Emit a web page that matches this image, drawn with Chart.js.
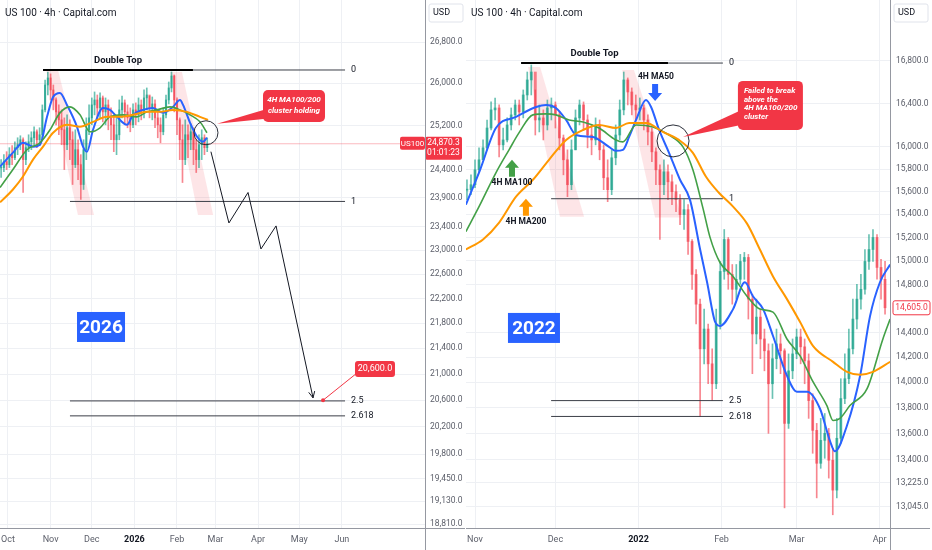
<!DOCTYPE html>
<html>
<head>
<meta charset="utf-8">
<script src="https://cdn.jsdelivr.net/npm/chart.js@4.4.1/dist/chart.umd.min.js"></script>
<style>
  html, body { margin: 0; padding: 0; background: #fff; overflow: hidden; }
  #wrap { position: relative; width: 932px; height: 550px; }
  canvas { position: absolute; top: 0; }
  #left { left: 0; }
  #right { left: 466px; }
</style>
</head>
<body>
<div id="wrap">
  <canvas id="left" width="466" height="550" style="width:466px;height:550px"></canvas>
  <canvas id="right" width="466" height="550" style="width:466px;height:550px"></canvas>
</div>
<script>
const FONT = 'Roboto, "Noto Sans", sans-serif';
const INK = '#131722';
const AXIS_INK = '#5d606b';
const GRID = '#eef0f4';
const UP = 'rgba(8,153,129,0.6)';
const DOWN = 'rgba(242,54,69,0.6)';
const RED = '#f23645';
const BLUE = '#2962ff';
const GREEN = '#43a047';
const ORANGE = '#ff9800';

// ---------- left panel: 2025/26, x = days since 1 Oct 2025 ----------
const leftMonthDays = [0, 31, 61, 92, 123, 151, 182, 212, 243];
const leftMonthLabels = ['Oct', 'Nov', 'Dec', '2026', 'Feb', 'Mar', 'Apr', 'May', 'Jun'];
const leftPriceTicks = [26800, 26000, 25200, 24400, 23900, 23400, 23000, 22600, 22200, 21800, 21400, 21000, 20600, 20200, 19800, 19450, 19130, 18810];
const leftFirstDay = -5;
const leftDayStep = 2;
const leftClose = [24439, 24546, 24492, 24672, 24618, 24799, 24853, 24944, 24582, 24799, 24907, 24980, 25090, 24944, 25035, 25497, 25968, 26102, 25873, 25684, 25460, 25311, 25127, 24853, 25164, 24944, 24492, 24762, 24492, 24137, 24762, 25127, 25348, 25590, 25684, 25534, 25722, 25460, 25590, 25348, 25219, 24944, 25035, 25497, 25628, 25460, 25348, 25219, 25497, 25404, 25590, 25460, 25722, 25778, 25534, 25609, 25348, 25219, 25090, 25404, 25684, 25911, 26140, 25684, 25311, 24944, 24582, 25035, 24944, 25090, 24762, 24582, 24853, 24980, 24799, 24870];
const leftHigh = [24582, 24672, 24726, 24799, 24835, 24907, 24980, 25017, 24980, 24907, 25035, 25090, 25182, 25127, 25164, 25590, 26063, 26217, 26180, 25968, 25722, 25590, 25497, 25348, 25404, 25311, 25090, 25127, 24944, 24672, 24944, 25348, 25590, 25722, 25835, 25778, 25816, 25759, 25722, 25684, 25534, 25404, 25348, 25684, 25759, 25684, 25590, 25534, 25609, 25628, 25722, 25684, 25873, 25911, 25759, 25740, 25684, 25460, 25348, 25534, 25778, 26025, 26217, 26159, 25722, 25348, 25219, 25311, 25219, 25237, 25164, 24944, 25035, 25127, 25035, 24980];
const leftLow = [24261, 24367, 24403, 24439, 24492, 24582, 24672, 24762, 23996, 24492, 24726, 24762, 24853, 24799, 24835, 24980, 25460, 25778, 25684, 25497, 25219, 25035, 24853, 24403, 24762, 24582, 24137, 24439, 24225, 23874, 24049, 24582, 25035, 25219, 25404, 25311, 25348, 25274, 25219, 25127, 24944, 24726, 24672, 24944, 25348, 25219, 25164, 25090, 25164, 25219, 25274, 25311, 25348, 25497, 25348, 25311, 25164, 24980, 24889, 25035, 25348, 25609, 25835, 25460, 25035, 24582, 24172, 24492, 24618, 24762, 24492, 24350, 24439, 24582, 24672, 24726];
const leftMa50 = [[-5.8, 24457], [3.6, 24708], [10.9, 24889], [18.2, 24817], [23.3, 24853], [28.4, 25367], [32.8, 25740], [37.8, 25816], [42.9, 25590], [50.2, 25182], [54.6, 24817], [57.5, 24726], [61.9, 25127], [69.1, 25534], [74.2, 25497], [79.3, 25367], [86.6, 25219], [91.0, 25404], [98.3, 25497], [105.5, 25534], [112.8, 25441], [120.1, 25553], [125.2, 25684], [127.4, 25590], [132.5, 25256], [137.6, 24998], [141.9, 24907], [144.8, 24980]];
const leftMa100 = [[-5.8, 24084], [3.6, 24403], [13.8, 24762], [23.3, 24889], [30.6, 25127], [37.8, 25441], [45.1, 25553], [52.4, 25404], [59.7, 25090], [67.0, 25164], [74.2, 25367], [83.7, 25404], [93.9, 25367], [101.2, 25460], [108.4, 25497], [117.9, 25553], [125.2, 25497], [132.5, 25404], [139.7, 25274], [144.8, 25072]];
const leftMa200 = [[-5.8, 23822], [3.6, 24049], [10.9, 24279], [18.2, 24582], [25.5, 24817], [32.8, 25072], [42.9, 25219], [52.4, 25182], [61.9, 25274], [72.1, 25367], [81.5, 25367], [91.0, 25404], [101.2, 25460], [110.6, 25460], [120.1, 25497], [130.3, 25460], [139.7, 25367], [145.6, 25311]];
const leftFibLabels = ['0', '1', '2.5', '2.618'];
const leftFibPrices = [26255, 23839, 20590, 20365];
const leftFibFrom = [25.5, 45.1, 45.1, 45.1];
const leftFibTo = 245.3;
const leftDoubleTop = [25.5, 134.6];
const leftPathDays = [147.7, 160.8, 174.7, 184.1, 195.1, 222.0];
const leftPathPrices = [24726, 23465, 23996, 23021, 23414, 20636];
const leftTargetDay = 229.3;
const leftTargetPrice = 20600;
const leftLastPrice = 24870.3;
const leftBands = [
  [[27.7, 26255], [36.4, 26255], [62.6, 23603], [50.9, 23603]],
  [[117.9, 26217], [126.6, 26217], [149.3, 23603], [138.3, 23603]]
];

// ---------- right panel: 2021/22, x = days since 1 Nov 2021 ----------
const rightMonthDays = [0, 30, 61, 92, 120, 151];
const rightMonthLabels = ['Nov', 'Dec', '2022', 'Feb', 'Mar', 'Apr'];
const rightPriceTicks = [16800, 16400, 16000, 15800, 15600, 15400, 15200, 15000, 14800, 14400, 14200, 14000, 13800, 13600, 13400, 13225, 13045];
const rightFirstDay = -3;
const rightDayStep = 1.5;
const rightClose = [15617, 15661, 15794, 15884, 15992, 16173, 16340, 16358, 16019, 16064, 16201, 16294, 16386, 16321, 16479, 16620, 16695, 16247, 16266, 16201, 16358, 16386, 16294, 16082, 15884, 15661, 15974, 16266, 16386, 16247, 16109, 16064, 16201, 15974, 15723, 15617, 15902, 16109, 16340, 16620, 16507, 16386, 16340, 16358, 16247, 16137, 15956, 15794, 15661, 15776, 15687, 15599, 15529, 15398, 15441, 15165, 14884, 14635, 14269, 14430, 14148, 13989, 14471, 14909, 15182, 14884, 14759, 14843, 14994, 15028, 14677, 14390, 14528, 14349, 14253, 13989, 14189, 14309, 14253, 13678, 14092, 14228, 14365, 14285, 14172, 13856, 13624, 13372, 13547, 13601, 13395, 13170, 13563, 13872, 14029, 14269, 14512, 14677, 14759, 14994, 15096, 15199, 14943, 14843, 14605];
const rightHigh = [15705, 15749, 15884, 15992, 16064, 16247, 16414, 16451, 16386, 16173, 16266, 16358, 16432, 16432, 16526, 16695, 16762, 16526, 16386, 16340, 16432, 16451, 16414, 16321, 16109, 15974, 16064, 16340, 16432, 16414, 16294, 16201, 16266, 16247, 16019, 15884, 15974, 16201, 16432, 16695, 16639, 16545, 16479, 16451, 16386, 16294, 16173, 15992, 15839, 15884, 15839, 15749, 15661, 15573, 15529, 15485, 15182, 14926, 14677, 14594, 14471, 14269, 14594, 14994, 15268, 15199, 14968, 14968, 15054, 15071, 15054, 14718, 14677, 14594, 14430, 14309, 14309, 14430, 14390, 14269, 14228, 14349, 14430, 14430, 14349, 14228, 13910, 13678, 13717, 13755, 13639, 13486, 13717, 14029, 14228, 14430, 14677, 14801, 14884, 15096, 15225, 15268, 15225, 15011, 14994];
const rightLow = [15529, 15573, 15634, 15776, 15884, 15974, 16155, 16247, 15911, 15974, 16046, 16155, 16247, 16201, 16266, 16432, 16479, 16109, 16137, 16064, 16155, 16247, 16173, 15974, 15749, 15555, 15617, 15974, 16201, 16155, 15992, 15929, 16019, 15884, 15617, 15511, 15573, 15839, 16064, 16294, 16386, 16294, 16247, 16247, 16155, 16019, 15866, 15661, 15182, 15573, 15529, 15485, 15424, 15311, 15268, 15054, 14759, 14471, 13732, 14148, 13989, 13856, 13950, 14430, 14843, 14759, 14635, 14677, 14801, 14843, 14512, 14069, 14309, 14189, 14092, 13601, 13872, 14108, 14069, 13038, 13639, 14029, 14189, 14148, 13989, 13717, 13448, 13112, 13334, 13410, 13260, 12987, 13112, 13524, 13832, 13989, 14228, 14430, 14594, 14718, 14926, 14994, 14843, 14677, 14553];
const rightMa50 = [[-3.4, 15485], [1.9, 15794], [7.8, 16173], [15.3, 16275], [22.8, 16367], [26.5, 16386], [30.2, 16358], [34.0, 16247], [37.7, 16109], [44.0, 16091], [50.0, 16001], [52.6, 15965], [55.2, 15974], [57.5, 16091], [60.1, 16247], [63.8, 16432], [65.7, 16367], [68.7, 16155], [72.4, 15947], [76.5, 15705], [80.2, 15529], [84.0, 15096], [86.6, 14818], [89.6, 14488], [91.4, 14455], [96.3, 14594], [100.7, 14818], [103.7, 14701], [107.5, 14594], [111.2, 14373], [116.4, 14053], [120.1, 13926], [123.9, 13926], [128.7, 13794], [132.5, 13540], [134.3, 13463], [138.8, 13662], [143.7, 14053], [147.4, 14536], [151.1, 14818], [154.9, 14968]];
const rightMa100 = [[-3.4, 15250], [1.5, 15467], [7.8, 15767], [12.7, 15974], [16.4, 16128], [21.6, 16294], [26.5, 16303], [30.2, 16294], [35.1, 16247], [40.3, 16229], [46.3, 16173], [52.6, 16064], [55.2, 16046], [60.1, 16201], [66.4, 16182], [72.4, 16109], [77.6, 16001], [81.3, 15794], [85.1, 15450], [87.7, 15200], [91.4, 14985], [96.3, 14867], [101.5, 14701], [106.3, 14594], [111.2, 14569], [116.4, 14349], [121.3, 14212], [126.1, 14005], [131.3, 13817], [133.6, 13701], [136.2, 13717], [139.9, 13817], [146.3, 13950], [152.2, 14349], [154.9, 14512]];
const rightMa200 = [[-3.4, 15096], [3.0, 15182], [9.0, 15328], [15.3, 15555], [21.6, 15705], [27.6, 15884], [34.0, 16064], [40.3, 16155], [46.3, 16201], [52.6, 16173], [57.5, 16219], [63.8, 16219], [70.1, 16137], [76.1, 16064], [81.3, 15947], [86.2, 15732], [91.0, 15590], [96.3, 15467], [101.5, 15319], [106.3, 15096], [111.2, 14867], [116.4, 14677], [121.3, 14488], [126.1, 14293], [133.6, 14164], [138.8, 14084], [143.7, 14061], [148.5, 14084], [154.9, 14164]];
const rightFibLabels = ['0', '1', '2.5', '2.618'];
const rightFibPrices = [16780, 15537, 13856, 13732];
const rightFibFrom = [17.2, 28.4, 28.4, 28.4];
const rightFibTo = 92.5;
const rightDoubleTop = [17.2, 72.0];
const rightLastPrice = 14605.0;
const rightBands = [
  [[19.8, 16743], [24.3, 16743], [40.7, 15380], [31.7, 15380]],
  [[54.9, 16714], [59.3, 16714], [77.2, 15372], [67.2, 15372]]
];

// ---------- helpers ----------
const pts = arr => arr.map(([x, y]) => ({ x, y }));
const X = (ch, d) => ch.scales.x.getPixelForValue(d);
const Y = (ch, p) => ch.scales.y.getPixelForValue(p);
const fmt = v => v.toLocaleString('en-US', { minimumFractionDigits: 1, maximumFractionDigits: 1 });

function candleSets(first, step, close, high, low, body) {
  const wicks = [], bodies = [], colors = [];
  close.forEach((c, i) => {
    const x = first + i * step;
    const open = i ? close[i - 1] : c;
    wicks.push({ x, y: [low[i], high[i]] });
    bodies.push({ x, y: open === c ? [c * 0.9997, c * 1.0003] : [open, c] });
    colors.push(c >= open ? UP : DOWN);
  });
  return [
    { type: 'bar', data: wicks, backgroundColor: colors, barThickness: 1, grouped: false, order: 10 },
    { type: 'bar', data: bodies, backgroundColor: colors, barThickness: body, grouped: false, order: 9 }
  ];
}

const lineSet = (data, color, width, extra) => Object.assign({
  type: 'line', data, borderColor: color, borderWidth: width, pointRadius: 0,
  fill: false, cubicInterpolationMode: 'monotone', order: 1
}, extra);

function fibSets(labels, prices, from, to, top) {
  const sets = prices.map((p, i) => lineSet([{ x: from[i], y: p }, { x: to, y: p }], '#3b3e47', 1, { order: 3 }));
  sets.push(lineSet([{ x: top[0], y: prices[0] }, { x: top[1], y: prices[0] }], '#000', 2, { order: 2 }));
  return sets;
}

function scalesFor(xMin, xMax, monthDays, monthLabels, yMin, yMax, yTicks, axisW, pad) {
  const isYear = c => c.tick && /^\d{4}$/.test(String(c.tick.label));
  return {
    x: {
      type: 'linear', min: xMin, max: xMax, offset: false,
      afterBuildTicks: s => { s.ticks = monthDays.map(v => ({ value: v })); },
      afterFit: s => { s.height = 22; s.paddingLeft = 0; s.paddingRight = 0; },
      ticks: {
        autoSkip: false, maxRotation: 0, padding: 6,
        color: c => isYear(c) ? INK : AXIS_INK,
        font: c => ({ family: FONT, size: 9, weight: isYear(c) ? 'bold' : 'normal' }),
        callback: v => monthLabels[monthDays.indexOf(v)]
      },
      grid: { color: GRID, drawTicks: false, offset: false },
      border: { color: '#9598a1' }
    },
    y: {
      type: 'logarithmic', position: 'right', min: yMin, max: yMax,
      afterBuildTicks: s => { s.ticks = yTicks.map(v => ({ value: v })); },
      afterFit: s => { s.width = axisW; s.paddingTop = 0; s.paddingBottom = 0; },
      ticks: { autoSkip: false, padding: pad, color: AXIS_INK, font: { family: FONT, size: 8.5 }, callback: v => fmt(v) },
      grid: { color: GRID, drawTicks: false },
      border: { color: '#9598a1' }
    }
  };
}

function poly(ctx, points, color) {
  ctx.beginPath();
  points.forEach(([x, y], i) => i ? ctx.lineTo(x, y) : ctx.moveTo(x, y));
  ctx.closePath();
  ctx.fillStyle = color;
  ctx.fill();
}

function rbox(ctx, x, y, w, h, r, fill, stroke) {
  ctx.beginPath();
  ctx.moveTo(x + r, y);
  ctx.arcTo(x + w, y, x + w, y + h, r);
  ctx.arcTo(x + w, y + h, x, y + h, r);
  ctx.arcTo(x, y + h, x, y, r);
  ctx.arcTo(x, y, x + w, y, r);
  ctx.closePath();
  if (fill) { ctx.fillStyle = fill; ctx.fill(); }
  if (stroke) { ctx.strokeStyle = stroke; ctx.lineWidth = 1; ctx.stroke(); }
}

function label(ctx, s, x, y, font, color, align) {
  ctx.font = font;
  ctx.fillStyle = color;
  ctx.textAlign = align || 'left';
  ctx.textBaseline = 'middle';
  ctx.fillText(s, x, y);
}

// dir 1 = pointing up, -1 = pointing down
function blockArrow(ctx, x, tipY, dir, color) {
  const s = dir;
  poly(ctx, [[x, tipY], [x + 7, tipY + 8 * s], [x + 3, tipY + 8 * s], [x + 3, tipY + 17 * s],
    [x - 3, tipY + 17 * s], [x - 3, tipY + 8 * s], [x - 7, tipY + 8 * s]], color);
}

function drawBands(ch, bands) {
  const ctx = ch.ctx, a = ch.chartArea;
  ctx.save();
  ctx.beginPath();
  ctx.rect(a.left, a.top, a.right - a.left, a.bottom - a.top);
  ctx.clip();
  bands.forEach(b => poly(ctx, b.map(([d, p]) => [X(ch, d), Y(ch, p)]), 'rgba(242,54,69,0.13)'));
  ctx.restore();
}

function drawFibText(ch, labels, prices, to, top) {
  const ctx = ch.ctx;
  labels.forEach((t, i) => label(ctx, t, X(ch, to) + 6, Y(ch, prices[i]), `9px ${FONT}`, INK));
  label(ctx, 'Double Top', X(ch, (top[0] + top[1]) / 2), Y(ch, prices[0]) - 9, `bold 9.5px ${FONT}`, INK, 'center');
}

function callout(ch, c) {
  const ctx = ch.ctx;
  const bx = X(ch, c.day), by = Y(ch, c.price);
  poly(ctx, [[X(ch, c.tipDay), Y(ch, c.tipPrice)], [bx + 3, by + c.h * 0.6], [bx + 3, by + c.h * 0.9]], RED);
  rbox(ctx, bx, by, c.w, c.h, 5, RED);
  c.lines.forEach((t, i) => {
    const tx = c.center ? bx + c.w / 2 : bx + 6;
    label(ctx, t, tx, by + 10 + i * c.lh, `italic bold 8px ${FONT}`, '#fff', c.center ? 'center' : 'left');
  });
}

function ring(ch, day, price, r) {
  const ctx = ch.ctx;
  ctx.beginPath();
  ctx.arc(X(ch, day), Y(ch, price), r, 0, Math.PI * 2);
  ctx.strokeStyle = '#2a2e39';
  ctx.lineWidth = 1;
  ctx.stroke();
}

function yearBox(ch, text, day, price, w) {
  const x = X(ch, day), y = Y(ch, price);
  ch.ctx.fillStyle = BLUE;
  ch.ctx.fillRect(x - w / 2, y - 15, w, 30);
  label(ch.ctx, text, x, y + 1, `bold 19px ${FONT}`, '#fff', 'center');
}

function chrome(ch, title) {
  const ctx = ch.ctx, a = ch.chartArea;
  label(ctx, title, a.left + 5, 13, `10px ${FONT}`, INK);
  rbox(ctx, a.right + 4, 4, 34, 18, 2, '#fff', '#e0e3eb');
  label(ctx, 'USD', a.right + 8, 13, `9px ${FONT}`, INK);
  ctx.strokeStyle = '#9598a1';
  ctx.lineWidth = 1;
  ctx.beginPath();
  ctx.moveTo(a.right + 0.5, 0);
  ctx.lineTo(a.right + 0.5, 550);
  ctx.moveTo(a.left, a.bottom + 0.5);
  ctx.lineTo(a.right + 40, a.bottom + 0.5);
  ctx.stroke();
}

// ---------- left chart ----------
const leftOverlay = {
  id: 'leftOverlay',
  beforeDatasetsDraw: ch => drawBands(ch, leftBands),
  afterDatasetsDraw: ch => {
    const ctx = ch.ctx, a = ch.chartArea;
    drawFibText(ch, leftFibLabels, leftFibPrices, leftFibTo, leftDoubleTop);
    ring(ch, 144.1, 25072, 12);
    callout(ch, { day: 185.6, price: 25873, w: 62, h: 32, lh: 11, center: true,
      tipDay: 152.1, tipPrice: 25237, lines: ['4H MA100/200', 'cluster holding'] });

    // arrow head at the end of the projected path
    const n = leftPathDays.length - 1;
    const ex = X(ch, leftPathDays[n]), ey = Y(ch, leftPathPrices[n]);
    const ang = Math.atan2(ey - Y(ch, leftPathPrices[n - 1]), ex - X(ch, leftPathDays[n - 1]));
    ctx.strokeStyle = '#131722';
    ctx.lineWidth = 1;
    ctx.beginPath();
    ctx.moveTo(ex - 7 * Math.cos(ang - 0.45), ey - 7 * Math.sin(ang - 0.45));
    ctx.lineTo(ex, ey);
    ctx.lineTo(ex - 7 * Math.cos(ang + 0.45), ey - 7 * Math.sin(ang + 0.45));
    ctx.stroke();

    // target point and its label
    const tx = X(ch, leftTargetDay), ty = Y(ch, leftTargetPrice);
    const lx = X(ch, 267.1), ly = Y(ch, 21078);
    ctx.strokeStyle = RED;
    ctx.beginPath();
    ctx.moveTo(tx, ty);
    ctx.lineTo(lx - 18, ly + 4);
    ctx.stroke();
    ctx.fillStyle = RED;
    ctx.beginPath();
    ctx.arc(tx, ty, 2, 0, Math.PI * 2);
    ctx.fill();
    rbox(ctx, lx - 20, ly - 8, 40, 16, 3, RED);
    label(ctx, fmt(leftTargetPrice), lx, ly, `9px ${FONT}`, '#fff', 'center');

    yearBox(ch, '2026', 67.7, 21739, 48);

    // last price tags
    const py = Y(ch, leftLastPrice);
    rbox(ctx, a.right - 25, py - 7, 25, 13, 2, RED);
    label(ctx, 'US100', a.right - 12.5, py, `8px ${FONT}`, '#fff', 'center');
    rbox(ctx, a.right, py - 7, 37, 23, 2, RED);
    label(ctx, fmt(leftLastPrice), a.right + 18.5, py - 0.5, `8.5px ${FONT}`, '#fff', 'center');
    label(ctx, '01:01:23', a.right + 18.5, py + 9.5, `8.5px ${FONT}`, '#fff', 'center');
  },
  afterDraw: ch => chrome(ch, 'US 100 · 4h · Capital.com')
};

const leftData = {
  datasets: [
    ...candleSets(leftFirstDay, leftDayStep, leftClose, leftHigh, leftLow, 1.5),
    lineSet(pts(leftMa200), ORANGE, 2),
    lineSet(pts(leftMa100), GREEN, 1.6),
    lineSet(pts(leftMa50), BLUE, 2),
    ...fibSets(leftFibLabels, leftFibPrices, leftFibFrom, leftFibTo, leftDoubleTop),
    lineSet(leftPathDays.map((d, i) => ({ x: d, y: leftPathPrices[i] })), '#131722', 1, { cubicInterpolationMode: 'default', tension: 0, order: 0 }),
    lineSet([{ x: -6, y: leftLastPrice }, { x: 304, y: leftLastPrice }], 'rgba(242,54,69,0.35)', 1, { order: 11 })
  ]
};

new Chart(document.getElementById('left'), {
  type: 'bar',
  data: leftData,
  options: {
    responsive: false,
    animation: false,
    events: [],
    layout: { padding: 0 },
    plugins: { legend: { display: false }, tooltip: { enabled: false } },
    scales: scalesFor(-5.82, 303.5, leftMonthDays, leftMonthLabels, 18755, 27640, leftPriceTicks, 41, 5)
  },
  plugins: [leftOverlay]
});

// ---------- right chart ----------
const rightOverlay = {
  id: 'rightOverlay',
  beforeDatasetsDraw: ch => drawBands(ch, rightBands),
  afterDatasetsDraw: ch => {
    const ctx = ch.ctx, a = ch.chartArea;
    drawFibText(ch, rightFibLabels, rightFibPrices, rightFibTo, rightDoubleTop);
    ring(ch, 73.9, 16055, 16);
    callout(ch, { day: 98.1, price: 16611, w: 65, h: 49, lh: 8.8, center: false,
      tipDay: 77.6, tipPrice: 16091, lines: ['Failed to break', 'above the', '4H MA100/200', 'cluster'] });

    blockArrow(ctx, X(ch, 67.2), Y(ch, 16423), -1, BLUE);
    label(ctx, '4H MA50', X(ch, 67.5), Y(ch, 16648), `bold 8.5px ${FONT}`, INK, 'center');
    blockArrow(ctx, X(ch, 13.8), Y(ch, 15884), 1, GREEN);
    label(ctx, '4H MA100', X(ch, 13.8), Y(ch, 15678), `bold 8.5px ${FONT}`, INK, 'center');
    blockArrow(ctx, X(ch, 19.0), Y(ch, 15537), 1, ORANGE);
    label(ctx, '4H MA200', X(ch, 19.0), Y(ch, 15337), `bold 8.5px ${FONT}`, INK, 'center');

    yearBox(ch, '2022', 22.0, 14439, 52);

    const py = Y(ch, rightLastPrice);
    rbox(ctx, a.right + 3, py - 7, 37, 14, 2, '#fff', RED);
    label(ctx, fmt(rightLastPrice), a.right + 21.5, py, `8.5px ${FONT}`, RED, 'center');
  },
  afterDraw: ch => chrome(ch, 'US 100 · 4h · Capital.com')
};

const rightData = {
  datasets: [
    ...candleSets(rightFirstDay, rightDayStep, rightClose, rightHigh, rightLow, 2.2),
    lineSet(pts(rightMa200), ORANGE, 2),
    lineSet(pts(rightMa100), GREEN, 1.6),
    lineSet(pts(rightMa50), BLUE, 2),
    ...fibSets(rightFibLabels, rightFibPrices, rightFibFrom, rightFibTo, rightDoubleTop)
  ]
};

new Chart(document.getElementById('right'), {
  type: 'bar',
  data: rightData,
  options: {
    responsive: false,
    animation: false,
    events: [],
    layout: { padding: 0 },
    plugins: { legend: { display: false }, tooltip: { enabled: false } },
    scales: scalesFor(-3.36, 154.85, rightMonthDays, rightMonthLabels, 12890, 17391, rightPriceTicks, 42, 6)
  },
  plugins: [rightOverlay]
});
</script>
</body>
</html>
